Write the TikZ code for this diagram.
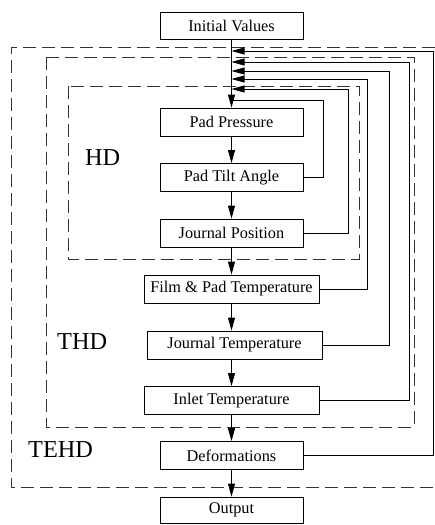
\documentclass[tikz,border=0pt]{standalone}
\usepackage{fontspec}
\setmainfont{Liberation Serif}
\usetikzlibrary{arrows.meta,calc}
\begin{document}
\begin{tikzpicture}[x=1pt,y=-1pt,
  box/.style={draw,line width=0.8pt,inner sep=0pt,minimum height=28pt,font=\fontsize{16.3}{18}\selectfont},
  narrow/.style={box,minimum width=143pt},
  wide/.style={box,minimum width=175pt},
  flow/.style={line width=0.8pt,-{Triangle[length=13pt,width=7pt]}},
  back/.style={line width=0.8pt},
  region/.style={line width=0.8pt,dash pattern=on 13pt off 6pt,draw=black!80},
  lbl/.style={anchor=west,inner sep=0pt,font=\fontsize{24.3}{26}\selectfont}]
\useasboundingbox (0,0) rectangle (435,525);
% dashed regions
\draw[region] (435,47) -- (11,47) -- (11,487) -- (435,487);
\draw[region] (46,57) rectangle (414,427);
\draw[region] (68,86) rectangle (359,259);
% boxes
\node[narrow,minimum height=27pt] (init) at (231.5,25.5) {Initial Values};
\node[narrow] (pp)  at (231.5,122) {Pad Pressure};
\node[narrow] (pta) at (231.5,177.5) {Pad Tilt Angle};
\node[narrow] (jp)  at (231.5,233) {Journal Position};
\node[wide]   (fpt) at (231.5,289) {Film \& Pad Temperature};
\node[wide]   (jt)  at (234.5,345) {Journal Temperature};
\node[wide]   (it)  at (231.5,400.5) {Inlet Temperature};
\node[narrow] (def) at (231.5,455.5) {Deformations};
\node[narrow,minimum height=26pt] (out) at (231.5,510) {Output};
% labels
\node[lbl] (hd) at (85,158) {HD};
\node[lbl] (thd) at (57,342) {THD};
\node[lbl] (tehd) at (28,450) {TEHD};
% merge points on the main line
\coordinate (m1) at (231.5,51);
\coordinate (m2) at (231.5,62);
\coordinate (m3) at (231.5,71);
\coordinate (m4) at (231.5,79);
\coordinate (m5) at (231.5,89);
\coordinate (m6) at (231.5,100);
% main flow
\draw[flow] (init.south) -- (pp.north);
\draw[flow] (pp.south) -- (pta.north);
\draw[flow] (pta.south) -- (jp.north);
\draw[flow] (jp.south) -- (fpt.north);
\draw[flow] (fpt.south) -- (fpt.south |- jt.north);
\draw[flow] (fpt.south |- jt.south) -- (it.north);
\draw[flow] (it.south) -- (def.north);
\draw[flow] (def.south) -- (out.north);
% feedback loops
\draw[back] (pta.east) -- (323,177.5) -- (323,100) -- (m6);
\draw[flow] (jp.east) -- (348,233) -- (348,89) -- (m5);
\draw[flow] (fpt.east) -- (367,289) -- (367,79) -- (m4);
\draw[flow] (jt.east) -- (389,345) -- (389,71) -- (m3);
\draw[flow] (it.east) -- (409,400.5) -- (409,62) -- (m2);
\draw[flow] (def.east) -- (433,455.5) -- (433,51) -- (m1);
\end{tikzpicture}
\end{document}
